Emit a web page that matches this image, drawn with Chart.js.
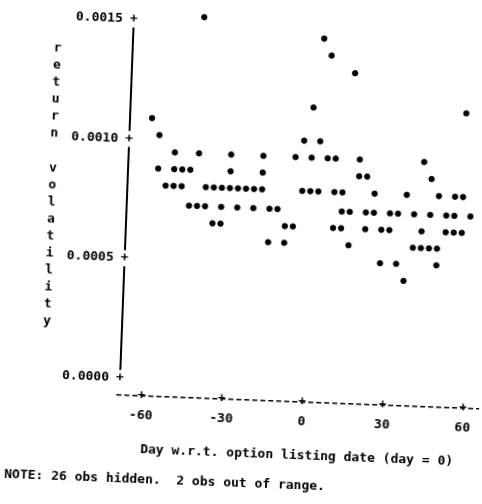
<!DOCTYPE html>
<html>
<head>
<meta charset="UTF-8">
<title>return volatility</title>
<script src="https://cdn.jsdelivr.net/npm/chart.js"></script>
<style>
  html, body {
    margin: 0;
    padding: 0;
    background: #fff;
    overflow: hidden;
  }
  /* the printout was scanned a little crooked */
  .chart-container {
    position: absolute;
    left: 0;
    top: 0;
    width: 500px;
    height: 504px;
    transform: rotate(2.2deg);
    transform-origin: 300px 200px;
  }
</style>
</head>

<body>
<div class="chart-container">
  <canvas id="volChart" width="500" height="504"></canvas>
</div>

<script>
    // day w.r.t. listing date (one print column = 3 days)
    const days = [
        -60, -57, -57, -54, -51, -51, -51, -48, -48, -45, -45, -42, -42, -42,
        -39, -39, -36, -36, -33, -33, -33, -30, -30, -30, -27, -27, -24, -21, -21,
        -18, -18, -18, -15, -15, -12, -9, -9, -6, -6, -3, -3, 0, 0, 0, 3, 3, 3,
        6, 6, 9, 9, 9, 12, 12, 12, 15, 15, 15, 18, 18, 21, 21, 21, 24, 24,
        27, 27, 30, 30, 33, 33, 36, 36, 39, 39, 42, 42, 42, 45, 45, 45,
        48, 48, 48, 51, 51, 54, 54, 54, 57, 57, 57, 60
    ];

    // return volatility, same order as days
    const volatility = [
        0.00107, 0.00100, 0.00086, 0.00079, 0.00093, 0.00086, 0.00079, 0.00086, 0.00079,
        0.00086, 0.00071, 0.00150, 0.00093, 0.00071, 0.00079, 0.00071, 0.00079, 0.00064,
        0.00079, 0.00071, 0.00064, 0.00093, 0.00086, 0.00079, 0.00079, 0.00071, 0.00079,
        0.00079, 0.00071, 0.00093, 0.00086, 0.00079, 0.00071, 0.00057, 0.00071,
        0.00064, 0.00057, 0.00093, 0.00064, 0.00100, 0.00079, 0.00114, 0.00093, 0.00079,
        0.00143, 0.00100, 0.00079, 0.00136, 0.00093, 0.00093, 0.00079, 0.00064,
        0.00079, 0.00071, 0.00064, 0.00129, 0.00071, 0.00057, 0.00093, 0.00086,
        0.00086, 0.00071, 0.00064, 0.00079, 0.00071, 0.00064, 0.00050, 0.00071, 0.00064,
        0.00071, 0.00050, 0.00079, 0.00043, 0.00071, 0.00057, 0.00093, 0.00064, 0.00057,
        0.00086, 0.00071, 0.00057, 0.00079, 0.00057, 0.00050, 0.00071, 0.00064,
        0.00079, 0.00071, 0.00064, 0.00114, 0.00079, 0.00064, 0.00071
    ];

    const xTicks = [-60, -30, 0, 30, 60];
    const yTicks = [0, 0.0005, 0.0010, 0.0015];

    const yTitle = 'return volatility';
    const xTitle = 'Day w.r.t. option listing date (day = 0)';
    const note = 'NOTE: 26 obs hidden.  2 obs out of range.';

    const printFont = { family: '"DejaVu Sans Mono", monospace', size: 13, weight: 'bold' };
    const rowStep = 0.0005 / 7; // one print line on the vertical axis
    const textDrop = 5;          // printed text sits a bit lower than the plot symbols

    const points = days.map((d, i) => ({ x: d, y: volatility[i] }));

    // line-printer style axes: solid vertical bar, dashed horizontal, "+" at ticks
    const printerAxes = {
        id: 'printerAxes',
        afterDraw(chart) {
            const { ctx, chartArea, scales: { x, y } } = chart;
            ctx.save();
            ctx.fillStyle = '#000';
            ctx.strokeStyle = '#000';
            ctx.font = 'bold 13px "DejaVu Sans Mono"';
            ctx.textAlign = 'center';
            ctx.textBaseline = 'middle';

            const ax = chartArea.left + 1;
            const ys = yTicks.map(v => y.getPixelForValue(v) + textDrop).sort((a, b) => a - b);
            ctx.lineWidth = 2;
            for (let i = 0; i < ys.length - 1; i++) {
                ctx.beginPath();
                ctx.moveTo(ax, ys[i] + 8);
                ctx.lineTo(ax, ys[i + 1] - 8);
                ctx.stroke();
            }
            ys.forEach(py => ctx.fillText('+', ax, py));

            ctx.lineWidth = 1.5;
            ctx.setLineDash([5, 3]);
            ctx.beginPath();
            ctx.moveTo(chartArea.left - 2, chartArea.bottom);
            ctx.lineTo(chartArea.right, chartArea.bottom);
            ctx.stroke();
            ctx.setLineDash([]);
            xTicks.forEach(v => ctx.fillText('+', x.getPixelForValue(v), chartArea.bottom));

            // vertical label, one letter per print line
            yTitle.split('').forEach((ch, i) => {
                ctx.fillText(ch, 52, y.getPixelForValue((19 - i) * rowStep) + 2.5);
            });
            ctx.restore();
        }
    };

    const config = {
        type: 'scatter',
        data: {
            datasets: [{
                data: points,
                backgroundColor: '#000',
                borderColor: '#000',
                pointRadius: 2.7,
                pointHoverRadius: 2.7,
                clip: false
            }]
        },
        options: {
            responsive: false,
            animation: false,
            devicePixelRatio: 1,
            layout: { padding: { left: 15, top: 21, right: 13, bottom: 0 } },
            plugins: {
                legend: { display: false },
                tooltip: { enabled: false },
                subtitle: {
                    display: true,
                    text: note,
                    position: 'bottom',
                    align: 'start',
                    color: '#000',
                    font: printFont,
                    padding: { top: 4, bottom: 11 }
                }
            },
            scales: {
                x: {
                    type: 'linear',
                    min: -68.6,
                    max: 66,
                    grid: { display: false, drawTicks: false, tickLength: 0 },
                    border: { display: false },
                    afterBuildTicks: s => { s.ticks = xTicks.map(v => ({ value: v })); },
                    afterFit: s => { s.height = 71.6; },
                    ticks: { padding: 12, color: '#000', font: printFont, maxRotation: 0, autoSkip: false },
                    title: {
                        display: true,
                        text: xTitle,
                        color: '#000',
                        font: printFont,
                        padding: { top: 0, bottom: 10 }
                    }
                },
                y: {
                    min: -0.0000925,
                    max: 0.0015,
                    grid: { display: false, drawTicks: false, tickLength: 0 },
                    border: { display: false },
                    afterBuildTicks: s => { s.ticks = yTicks.map(v => ({ value: v })); },
                    afterFit: s => { s.width = 111; },
                    ticks: {
                        padding: 10,
                        labelOffset: textDrop,
                        color: '#000',
                        font: printFont,
                        callback: v => v.toFixed(4)
                    }
                }
            }
        },
        plugins: [printerAxes]
    };

    new Chart(document.getElementById('volChart'), config);
</script>
</body>
</html>
